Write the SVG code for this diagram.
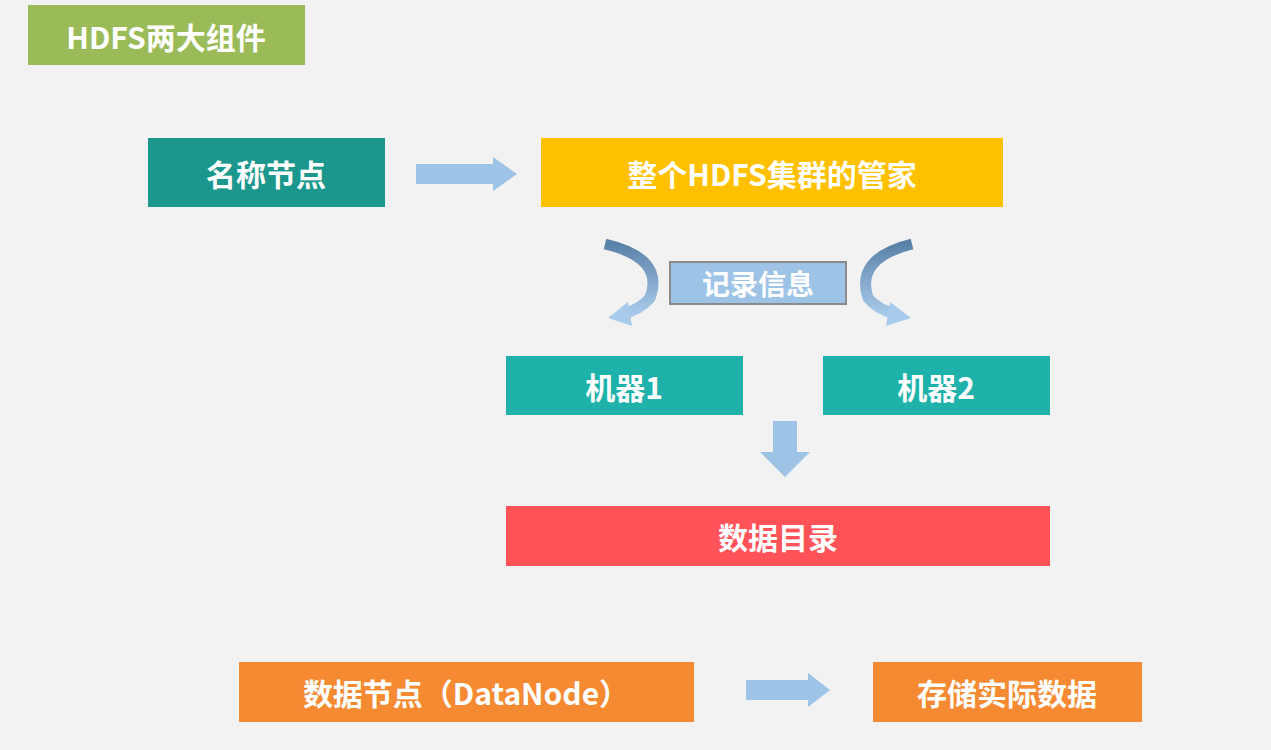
<svg xmlns="http://www.w3.org/2000/svg" width="1271" height="750" viewBox="0 0 1271 750">
<defs>
<style>
text{font-family:"Noto Sans CJK SC","Liberation Sans",sans-serif;font-weight:bold;fill:#fff;text-anchor:middle;dominant-baseline:central}
.arr{fill:#9dc3e6}
</style>
<linearGradient id="g" x1="0" y1="0" x2="0" y2="1"><stop offset="0" stop-color="#5a82a8"/><stop offset="1" stop-color="#a9cbeb"/></linearGradient>
</defs>
<rect width="1271" height="750" fill="#f2f2f2"/>
<g id="title"><rect x="28" y="5" width="277" height="60" fill="#9bbb59"/><text x="166" y="36" font-size="30">HDFS两大组件</text></g>
<g id="namenode"><rect x="148" y="138" width="237" height="69" fill="#1b978d"/><text x="266" y="173" font-size="30">名称节点</text></g>
<g id="steward"><rect x="541" y="138" width="462" height="69" fill="#ffc000"/><text x="772" y="173" font-size="30">整个HDFS集群的管家</text></g>
<g id="record"><rect x="670" y="262" width="176" height="42" fill="#9dc3e6" stroke="#8a8a8a" stroke-width="2"/><text x="758" y="283" font-size="28">记录信息</text></g>
<g id="m1"><rect x="506" y="356" width="237" height="59" fill="#1fb2aa"/><text x="624" y="386" font-size="30">机器1</text></g>
<g id="m2"><rect x="823" y="356" width="227" height="59" fill="#1fb2aa"/><text x="936" y="386" font-size="30">机器2</text></g>
<g id="dir"><rect x="506" y="506" width="544" height="60" fill="#ff5359"/><text x="778" y="536" font-size="30">数据目录</text></g>
<g id="datanode"><rect x="239" y="662" width="455" height="60" fill="#f58a32"/><text x="466" y="692" font-size="30">数据节点（DataNode）</text></g>
<g id="store"><rect x="873" y="662" width="269" height="60" fill="#f58a32"/><text x="1007" y="692" font-size="30">存储实际数据</text></g>
<g id="connectors">
<polygon class="arr" points="416,164 493,164 493,157 517,174 493,191 493,184 416,184"/>
<polygon class="arr" points="746,680 808,680 808,673 830,690 808,707 808,700 746,700"/>
<polygon class="arr" points="773,421 797,421 797,452 810,452 785,477 760,452 773,452"/>
<path d="M605,244 Q665,258 650,298 Q640,310 622,314" fill="none" stroke="url(#g)" stroke-width="11"/>
<polygon points="628,302 608,318 632,326" fill="#a9cbeb"/>
<path d="M912,244 Q855,258 868,298 Q878,310 896,314" fill="none" stroke="url(#g)" stroke-width="11"/>
<polygon points="890,302 911,318 886,326" fill="#a9cbeb"/>
</g>
</svg>
